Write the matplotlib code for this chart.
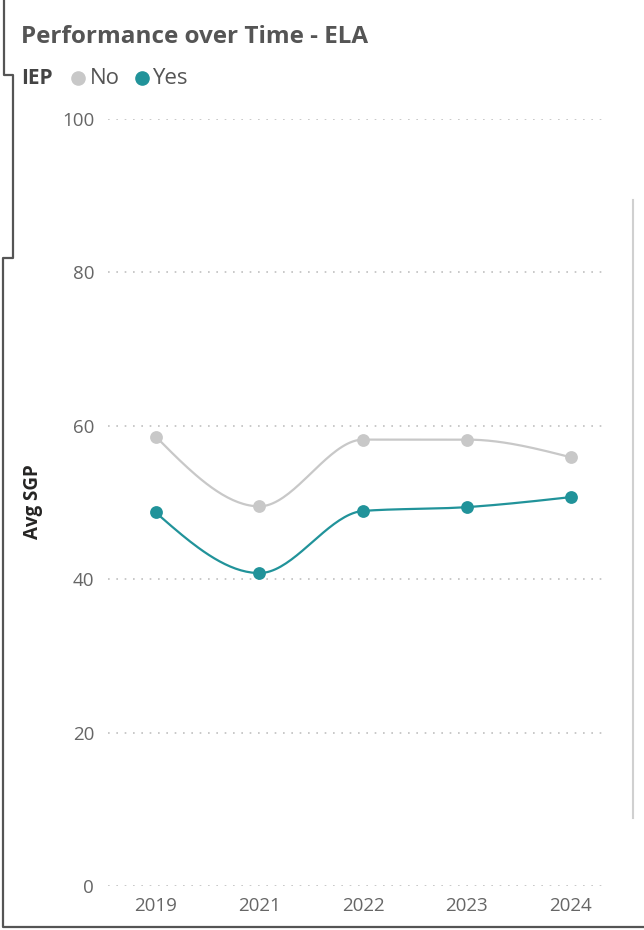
import numpy as np
import matplotlib.pyplot as plt
from matplotlib.lines import Line2D

plt.rcParams['font.family'] = ['Open Sans', 'DejaVu Sans']

years = ['2019', '2021', '2022', '2023', '2024']
sgp_no = [58.6, 49.5, 58.2, 58.2, 55.9]
sgp_yes = [48.7, 40.8, 48.9, 49.4, 50.7]

GREY = '#c8c8c8'
TEAL = '#21939a'


def monotone_curve(x, y, n=40):
    # monotone cubic (d3 curveMonotoneX style) between the points
    x = np.asarray(x, float)
    y = np.asarray(y, float)
    h = np.diff(x)
    s = np.diff(y) / h
    m = np.zeros_like(y)
    for i in range(1, len(y) - 1):
        if s[i - 1] * s[i] <= 0:
            m[i] = 0
        else:
            p = (s[i - 1] * h[i] + s[i] * h[i - 1]) / (h[i - 1] + h[i])
            m[i] = (np.sign(s[i - 1]) + np.sign(s[i])) * min(abs(s[i - 1]), abs(s[i]), 0.5 * abs(p))
    m[0] = (3 * s[0] - m[1]) / 2 if len(y) > 2 else s[0]
    m[-1] = (3 * s[-1] - m[-2]) / 2
    xs, ys = [], []
    for i in range(len(h)):
        t = np.linspace(0, 1, n)
        h00 = 2 * t**3 - 3 * t**2 + 1
        h10 = t**3 - 2 * t**2 + t
        h01 = -2 * t**3 + 3 * t**2
        h11 = t**3 - t**2
        xs.append(x[i] + t * h[i])
        ys.append(h00 * y[i] + h10 * h[i] * m[i] + h01 * y[i + 1] + h11 * h[i] * m[i + 1])
    return np.concatenate(xs), np.concatenate(ys)


fig = plt.figure(figsize=(6.44, 9.3), dpi=100)
ax = fig.add_axes([108 / 644, 1 - 886 / 930, 500 / 644, 767 / 930])

xpos = np.arange(len(years))
for vals, col in [(sgp_no, GREY), (sgp_yes, TEAL)]:
    cx, cy = monotone_curve(xpos, vals)
    ax.plot(cx, cy, color=col, lw=1.6, zorder=3, solid_capstyle='round')
    ax.scatter(xpos, vals, s=85, color=col, zorder=4, linewidths=0)

ax.set_xlim(-0.46, 4.36)
ax.set_ylim(0, 100)
ax.set_yticks(range(0, 101, 20))
ax.set_xticks(xpos)
ax.set_xticklabels(years)
ax.grid(axis='y', color='#c0c0c0', linestyle=(0, (1, 4)), linewidth=1.2)
ax.grid(axis='x', visible=False)
for sp in ax.spines.values():
    sp.set_visible(False)
ax.tick_params(length=0, labelsize=13.5, labelcolor='#666666')
ax.tick_params(axis='y', pad=10)
ax.tick_params(axis='x', pad=8)

fig.text(33 / 644, 1 - 502 / 930, 'Avg SGP', fontsize=13.5, fontweight='bold',
         color='#252423', rotation=90, ha='center', va='center')

# title and legend
fig.text(21 / 644, 1 - 37 / 930, 'Performance over Time - ELA', fontsize=17.5,
         fontweight='bold', color='#555555', va='center', ha='left')
fig.text(21 / 644, 1 - 79 / 930, 'IEP', fontsize=15, fontweight='bold',
         color='#444444', va='center', ha='left')
fig.add_artist(Line2D([78 / 644], [1 - 78 / 930], marker='o', markersize=9.5,
                      color=GREY, linestyle='none'))
fig.text(90 / 644, 1 - 79 / 930, 'No', fontsize=16, color='#555555', va='center', ha='left')
fig.add_artist(Line2D([142 / 644], [1 - 78 / 930], marker='o', markersize=9.5,
                      color=TEAL, linestyle='none'))
fig.text(152 / 644, 1 - 79 / 930, 'Yes', fontsize=16, color='#555555', va='center', ha='left')

# frame lines around the visual
fx = [4, 4, 13, 13, 3, 3, 644]
fy = [0, 75, 75, 258, 258, 927, 927]
fig.add_artist(Line2D([v / 644 for v in fx], [1 - v / 930 for v in fy],
                      color='#555555', lw=1.6))
fig.add_artist(Line2D([633 / 644, 633 / 644], [1 - 200 / 930, 1 - 818 / 930],
                      color='#d0d0d0', lw=1.5))

fig.savefig('out.png', dpi=100)
